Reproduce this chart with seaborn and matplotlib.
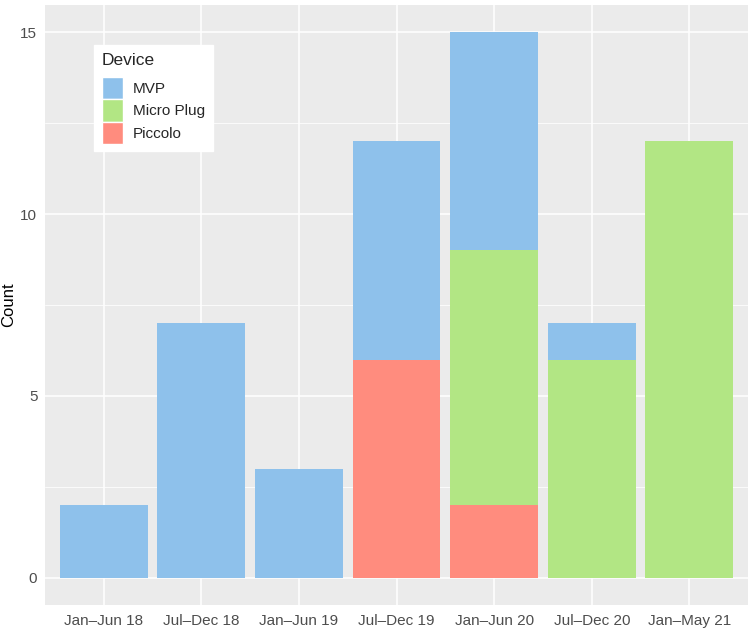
import pandas as pd
import matplotlib
matplotlib.use('Agg')
import matplotlib.pyplot as plt
import seaborn as sns
from matplotlib.patches import Patch

# --- data ---
PERIODS = ['Jan–Jun 18', 'Jul–Dec 18', 'Jan–Jun 19', 'Jul–Dec 19',
           'Jan–Jun 20', 'Jul–Dec 20', 'Jan–May 21']
DEVICES = ['MVP', 'Micro Plug', 'Piccolo']
MVP = [2, 7, 3, 6, 6, 1, 0]
MICRO_PLUG = [0, 0, 0, 0, 7, 6, 12]
PICCOLO = [0, 0, 0, 6, 2, 0, 0]
COLORS = {'MVP': '#8EC1EB', 'Micro Plug': '#B2E684', 'Piccolo': '#FF8C7E'}

rows = []
for dev, vals in zip(DEVICES, (MVP, MICRO_PLUG, PICCOLO)):
    for p, v in zip(PERIODS, vals):
        rows.append({'period': p, 'Device': dev, 'count': v})
df = pd.DataFrame(rows)
df['x'] = df['period'].map({p: i for i, p in enumerate(PERIODS)})

sns.set_theme(style='darkgrid')
plt.rcParams['font.family'] = ['Liberation Sans', 'DejaVu Sans']

fig = plt.figure(figsize=(7.51, 6.30), dpi=100)
ax = fig.add_axes([45 / 751, 25 / 630, 703 / 751, 600 / 630])
ax.set_facecolor('#EBEBEB')

sns.histplot(data=df, x='x', hue='Device', weights='count', hue_order=DEVICES,
             multiple='stack', discrete=True, shrink=0.9, palette=COLORS,
             alpha=1, linewidth=0, legend=False, ax=ax)

ax.set_xlim(-0.6, 6.6)
ax.set_ylim(-0.75, 15.75)
ax.set_xticks(range(len(PERIODS)), labels=PERIODS)
ax.set_yticks([0, 5, 10, 15])
ax.set_yticks([2.5, 7.5, 12.5], minor=True)
ax.grid(which='major', color='white', linewidth=1.1)
ax.grid(which='minor', axis='y', color='white', linewidth=0.55)
ax.set_axisbelow(True)
for s in ax.spines.values():
    s.set_visible(False)
ax.tick_params(axis='both', which='major', length=3.5, width=0.8, color='#333333',
               labelsize=11, labelcolor='#4D4D4D', pad=3)
ax.tick_params(axis='y', which='major', pad=2)
ax.tick_params(axis='both', which='minor', length=0)
ax.set_xlabel('')
ax.set_ylabel('Count', fontsize=12, color='black', labelpad=3)

handles = [Patch(facecolor=COLORS[d], edgecolor='white', linewidth=1) for d in DEVICES]
leg = ax.legend(handles, DEVICES, title='Device', loc='upper left',
                bbox_to_anchor=(49 / 703, 1 - 40 / 600), frameon=True,
                fontsize=11, title_fontsize=12.5, handlelength=1.4, handleheight=1.85,
                handletextpad=0.65, labelspacing=0.0, borderpad=0.5,
                fancybox=False, borderaxespad=0, framealpha=1)
leg.get_frame().set_facecolor('white')
leg.get_frame().set_edgecolor('white')
leg._legend_box.align = 'left'
leg._legend_box.sep = 7

fig.savefig('out.png', dpi=100)
